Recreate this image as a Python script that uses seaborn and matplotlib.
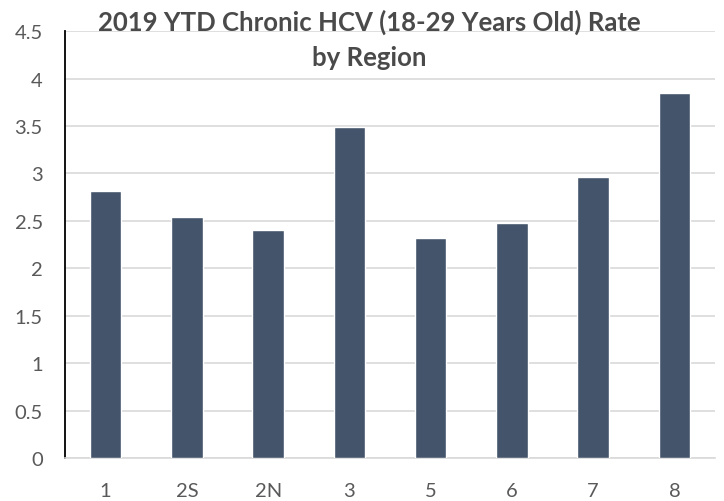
import pandas as pd
import matplotlib.pyplot as plt
import seaborn as sns

# Data
regions = ["1", "2S", "2N", "3", "5", "6", "7", "8"]
rates = [2.81, 2.545, 2.40, 3.49, 2.32, 2.48, 2.96, 3.85]
y_ticks = [0, 0.5, 1, 1.5, 2, 2.5, 3, 3.5, 4, 4.5]
y_labels = ["0", "0.5", "1", "1.5", "2", "2.5", "3", "3.5", "4", "4.5"]

df = pd.DataFrame({"Region": regions, "Rate": rates})

sns.set_theme(style="white")
plt.rcParams['font.family'] = ['Lato', 'DejaVu Sans']

fig = plt.figure(figsize=(7.24, 5.02), dpi=100)
ax = fig.add_axes([0.0898, 0.0857, 0.8978, 0.8503])

sns.barplot(data=df, x="Region", y="Rate", color="#44546A", width=0.39,
            saturation=1, ax=ax, zorder=3)

ax.set_ylim(0, 4.5)
ax.set_xlim(-0.5, len(regions) - 0.5)
ax.set_yticks(y_ticks)
ax.set_yticklabels(y_labels)
ax.yaxis.grid(True, color="#d9d9d9", linewidth=1.2, zorder=0)
ax.set_axisbelow(True)
ax.set_xlabel("")
ax.set_ylabel("")
ax.tick_params(axis="both", length=0, labelsize=14.5, colors="#595959")
ax.tick_params(axis="x", pad=17)
ax.tick_params(axis="y", pad=16)

for side in ["top", "right"]:
    ax.spines[side].set_visible(False)
ax.spines["left"].set_color("black")
ax.spines["left"].set_linewidth(1.3)
ax.spines["bottom"].set_color("#d9d9d9")
ax.spines["bottom"].set_linewidth(1.2)

fig.text(0.51, 0.955, "2019 YTD Chronic HCV (18-29 Years Old) Rate",
         ha="center", va="center", fontsize=18.5, fontweight="bold", color="#4a4a4a")
fig.text(0.51, 0.885, "by Region",
         ha="center", va="center", fontsize=18.5, fontweight="bold", color="#4a4a4a")

plt.savefig("out.png", dpi=100)
